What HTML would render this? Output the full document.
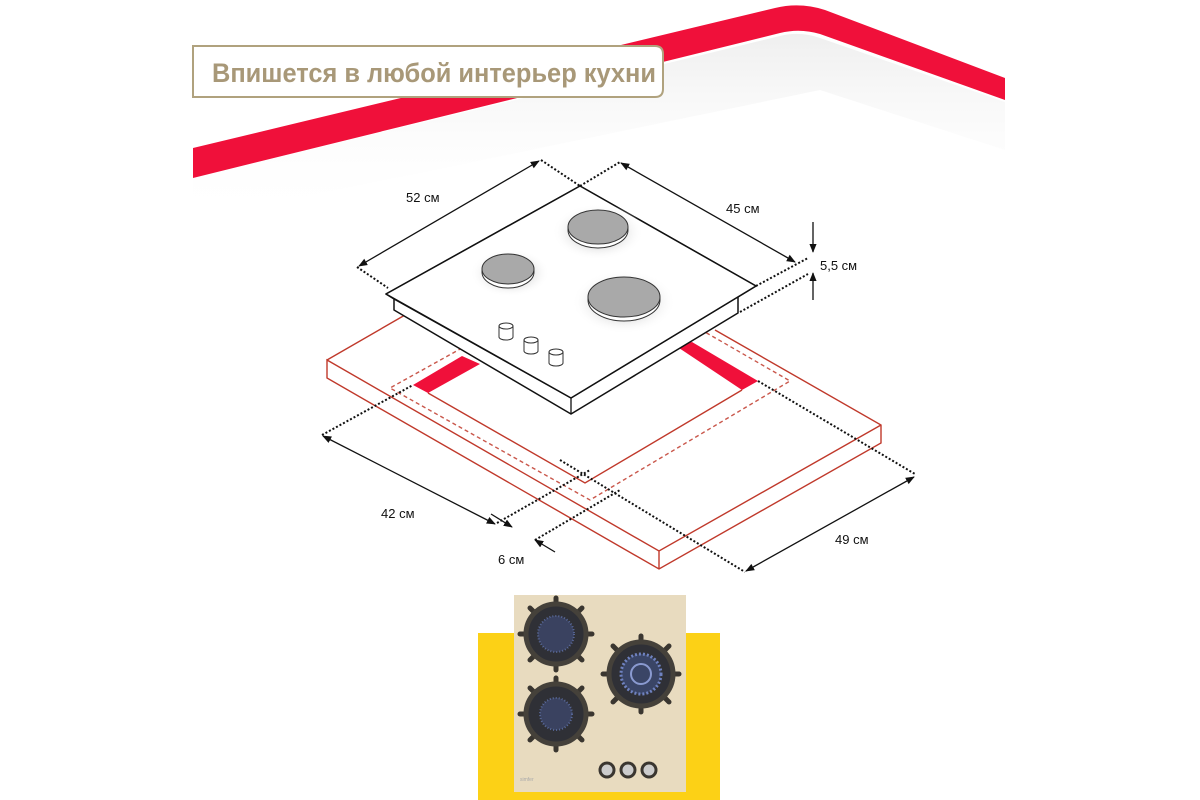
<!DOCTYPE html>
<html><head><meta charset="utf-8"><style>
html,body{margin:0;padding:0;background:#fff;}
svg{display:block}
text{font-family:"Liberation Sans",sans-serif;}
</style></head><body>
<svg width="1200" height="800" viewBox="0 0 1200 800" xmlns="http://www.w3.org/2000/svg">
<defs>
<linearGradient id="sh" x1="0" y1="0" x2="0" y2="1">
<stop offset="0" stop-color="#e4e4e4"/><stop offset="1" stop-color="#fff" stop-opacity="0"/>
</linearGradient>
<marker id="ar" viewBox="0 0 10 10" refX="9" refY="5" markerWidth="7" markerHeight="7" orient="auto-start-reverse">
<path d="M0,1 L10,5 L0,9 z" fill="#111"/></marker>
<radialGradient id="gl" cx="0.5" cy="0.5" r="0.5"><stop offset="0.6" stop-color="#ececec"/><stop offset="1" stop-color="#fff" stop-opacity="0"/></radialGradient>
</defs>
<rect width="1200" height="800" fill="#fff"/>
<path d="M193,178 L780,36 Q800,31 820,38 L1005,102 L1005,150 L820,90 L193,220 Z" fill="url(#sh)" opacity="0.6"/>
<path d="M193,148 L775,8 Q800,2 825,10 L1005,78 L1005,100 L820,34 Q800,28 780,33 L193,178 Z" fill="#f0103a"/>
<path d="M193,46 L655,46 Q663,46 663,54 L663,89 Q663,97 655,97 L193,97 Z" fill="#fff" stroke="#b0a27e" stroke-width="2"/>
<text x="212" y="82" font-size="27" font-weight="bold" fill="#a89878" textLength="444" lengthAdjust="spacingAndGlyphs">Впишется в любой интерьер кухни</text>

<g fill="none" stroke="#c0392b" stroke-width="1.4">
<path d="M327,360 L405,315 M715,330 L881,425 L881,443 L659,569 L327,378 L327,360 L659,551 L881,425 M659,551 L659,569"/>
<path d="M428,393 L585,483 L742,390"/>
<path d="M462,348 L390,388 L590,500 L790,381 L705,332" stroke-dasharray="4,3" opacity="0.85"/>
</g>
<polygon points="413,385 462,356 480,364 428,393" fill="#f0103a"/>
<polygon points="676,346 692,342 758,381 742,390" fill="#f0103a"/>

<polygon points="386,294 580,186 756,286 738,297 738,313 571,414 394,310 394,299" fill="#fff" stroke="#111" stroke-width="1.5" stroke-linejoin="round"/>
<polyline points="394,299 571,398 738,297" fill="none" stroke="#111" stroke-width="1.3"/>
<line x1="571" y1="398" x2="571" y2="414" stroke="#111" stroke-width="1.3"/>
<polygon points="386,294 580,186 756,286 571,398" fill="#fff" stroke="#111" stroke-width="1.5" stroke-linejoin="round"/>
<g>
<ellipse cx="598" cy="232" rx="46" ry="28" fill="url(#gl)"/>
<ellipse cx="510" cy="273" rx="40" ry="24" fill="url(#gl)"/>
<ellipse cx="624" cy="302" rx="52" ry="32" fill="url(#gl)"/>
<ellipse cx="598" cy="230" rx="30" ry="18" fill="#fff" stroke="#333" stroke-width="1"/>
<ellipse cx="598" cy="227" rx="30" ry="17" fill="#a9a9a9" stroke="#333" stroke-width="1"/>
<ellipse cx="508" cy="272" rx="26" ry="16" fill="#fff" stroke="#333" stroke-width="1"/>
<ellipse cx="508" cy="269" rx="26" ry="15" fill="#a9a9a9" stroke="#333" stroke-width="1"/>
<ellipse cx="624" cy="300" rx="36" ry="21" fill="#fff" stroke="#333" stroke-width="1"/>
<ellipse cx="624" cy="297" rx="36" ry="20" fill="#a9a9a9" stroke="#333" stroke-width="1"/>
</g>
<g fill="#fff" stroke="#333" stroke-width="1">
<path d="M499,326 L499,337 A7,3 0 0 0 513,337 L513,326 Z"/><ellipse cx="506" cy="326" rx="7" ry="3"/>
<path d="M524,340 L524,351 A7,3 0 0 0 538,351 L538,340 Z"/><ellipse cx="531" cy="340" rx="7" ry="3"/>
<path d="M549,352 L549,363 A7,3 0 0 0 563,363 L563,352 Z"/><ellipse cx="556" cy="352" rx="7" ry="3"/>
</g>

<g stroke="#111" stroke-width="1.3" fill="none">
<line x1="359" y1="266" x2="539" y2="161" marker-start="url(#ar)" marker-end="url(#ar)"/>
<line x1="621" y1="163" x2="795" y2="262" marker-start="url(#ar)" marker-end="url(#ar)"/>
<line x1="813" y1="222" x2="813" y2="252" marker-end="url(#ar)"/>
<line x1="813" y1="300" x2="813" y2="273" marker-end="url(#ar)"/>
<line x1="323" y1="436" x2="495" y2="524" marker-start="url(#ar)" marker-end="url(#ar)"/>
<line x1="746" y1="571" x2="914" y2="477" marker-start="url(#ar)" marker-end="url(#ar)"/>
<line x1="491" y1="514" x2="512" y2="527" marker-end="url(#ar)"/>
<line x1="555" y1="552" x2="535" y2="540" marker-end="url(#ar)"/>
</g>
<g stroke="#111" stroke-width="2" stroke-dasharray="2,2" fill="none">
<line x1="357" y1="267" x2="388" y2="288"/>
<line x1="541" y1="160" x2="580" y2="186"/>
<line x1="580" y1="186" x2="620" y2="162"/>
<line x1="756" y1="286" x2="808" y2="258"/>
<line x1="740" y1="312" x2="808" y2="274"/>
<line x1="322" y1="435" x2="413" y2="385"/>
<line x1="497" y1="523" x2="590" y2="470"/>
<line x1="535" y1="540" x2="620" y2="490"/>
<line x1="758" y1="381" x2="915" y2="474"/>
<line x1="560" y1="460" x2="745" y2="572"/>
</g>
<g font-size="13" fill="#111">
<text x="406" y="202">52 см</text>
<text x="726" y="213">45 см</text>
<text x="820" y="270">5,5 см</text>
<text x="381" y="518">42 см</text>
<text x="498" y="564">6 см</text>
<text x="835" y="544">49 см</text>
</g>

<rect x="478" y="633" width="242" height="167" fill="#fcd116"/>
<rect x="514" y="595" width="172" height="197" fill="#e8dbbf"/>
<g stroke="#3a3630" stroke-width="5" stroke-linecap="round">
<g transform="translate(556,634)"><line x1="-36" y1="0" x2="36" y2="0"/><line x1="0" y1="-36" x2="0" y2="36"/><line x1="-26" y1="-26" x2="26" y2="26"/><line x1="-26" y1="26" x2="26" y2="-26"/></g>
<g transform="translate(641,674)"><line x1="-38" y1="0" x2="38" y2="0"/><line x1="0" y1="-38" x2="0" y2="38"/><line x1="-28" y1="-28" x2="28" y2="28"/><line x1="-28" y1="28" x2="28" y2="-28"/></g>
<g transform="translate(556,714)"><line x1="-36" y1="0" x2="36" y2="0"/><line x1="0" y1="-36" x2="0" y2="36"/><line x1="-26" y1="-26" x2="26" y2="26"/><line x1="-26" y1="26" x2="26" y2="-26"/></g>
</g>
<g>
<circle cx="556" cy="634" r="30" fill="#2f3036" stroke="#45413a" stroke-width="5"/>
<circle cx="556" cy="634" r="18" fill="#3a4260" stroke="#5a6a9a" stroke-width="2" stroke-dasharray="1,2"/>
<circle cx="641" cy="674" r="32" fill="#2f3036" stroke="#45413a" stroke-width="5"/>
<circle cx="641" cy="674" r="20" fill="#3a4566" stroke="#6f82c0" stroke-width="3" stroke-dasharray="2,2"/>
<circle cx="641" cy="674" r="10" fill="#3a4566" stroke="#8a9ad0" stroke-width="2"/>
<circle cx="556" cy="714" r="30" fill="#2f3036" stroke="#45413a" stroke-width="5"/>
<circle cx="556" cy="714" r="16" fill="#3a4260" stroke="#5a6a9a" stroke-width="2" stroke-dasharray="1,2"/>
</g>
<g fill="#ccc" stroke="#3a3630" stroke-width="3">
<circle cx="607" cy="770" r="7"/><circle cx="628" cy="770" r="7"/><circle cx="649" cy="770" r="7"/>
</g>
<text x="520" y="781" font-size="5" fill="#aaa">simfer</text>
</svg>
</body></html>
